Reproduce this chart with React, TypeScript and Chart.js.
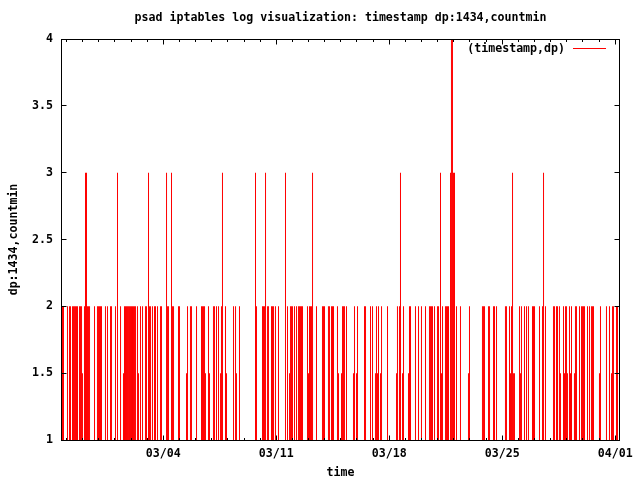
import { useEffect, useRef } from 'react';
import { Chart, registerables } from 'chart.js';

Chart.register(...registerables);

// hours since 2007-02-25 00:00
const timeHours = [
	18.1, 19.6, 25.5, 28.5, 30.0, 33.0, 34.5, 35.9, 37.4, 38.9,
	40.4, 43.4, 44.9, 46.4, 47.8, 50.8, 52.3, 53.8, 55.3, 56.8,
	58.3, 65.7, 70.1, 71.6, 73.1, 74.6, 76.1, 82.0, 85.0, 89.5,
	91.0, 96.9, 99.9, 104.4, 108.8, 110.3, 111.8, 113.3, 114.8, 116.2,
	117.7, 119.2, 120.7, 122.2, 123.7, 125.2, 126.7, 129.6, 131.1, 134.1,
	137.1, 141.5, 143.0, 146.0, 147.5, 149.0, 151.9, 154.9, 156.4, 159.4,
	163.8, 165.3, 172.8, 174.2, 175.7, 180.2, 181.7, 183.2, 190.6, 192.1,
	202.5, 204.0, 208.4, 209.9, 217.4, 224.8, 226.3, 227.8, 229.3, 230.7,
	235.2, 236.7, 242.6, 244.1, 247.1, 250.1, 253.1, 254.5, 256.0, 260.5,
	262.0, 272.4, 275.4, 276.8, 281.3, 305.1, 306.6, 315.5, 317.0, 318.5,
	320.0, 322.9, 324.4, 328.9, 330.4, 331.9, 334.8, 339.3, 349.7, 352.7,
	355.7, 357.1, 358.6, 360.1, 363.1, 366.1, 369.0, 370.5, 372.0, 373.5,
	375.0, 382.4, 383.9, 385.4, 386.9, 388.4, 389.9, 395.8, 404.7, 406.2,
	407.7, 413.6, 415.1, 418.1, 419.6, 421.1, 427.0, 428.5, 433.0, 434.5,
	436.0, 437.4, 440.4, 450.8, 452.3, 455.3, 456.8, 467.2, 468.7, 476.1,
	479.1, 483.5, 485.0, 486.5, 488.0, 491.0, 492.5, 501.4, 514.8, 516.2,
	519.2, 520.7, 523.7, 525.2, 532.6, 534.1, 535.6, 543.0, 547.5, 551.9,
	557.9, 563.8, 565.3, 566.8, 568.3, 571.3, 575.7, 577.2, 580.2, 581.7,
	583.2, 587.6, 589.1, 590.6, 592.1, 595.1, 596.5, 598.0, 599.5, 601.0,
	604.0, 609.9, 621.8, 623.3, 642.6, 644.1, 645.6, 651.6, 653.1, 659.0,
	660.5, 663.5, 676.8, 678.3, 682.8, 684.3, 685.8, 687.3, 688.7, 690.2,
	697.7, 699.2, 700.6, 705.1, 708.1, 711.0, 717.0, 718.5, 720.0, 727.4,
	731.9, 733.4, 736.3, 748.2, 749.7, 752.7, 754.2, 757.1, 758.6, 763.1,
	764.6, 766.1, 767.6, 769.0, 772.0, 773.5, 775.0, 779.4, 780.9, 782.4,
	786.9, 789.9, 791.3, 792.8, 794.3, 798.8, 801.8, 804.7, 806.2, 807.7,
	816.6, 818.1, 827.0, 831.5, 834.5, 836.0, 837.4, 841.9, 843.4
];

const countMin = [
	2, 2, 2, 2, 2, 2, 2, 2, 2, 2,
	2, 2, 2, 2, 1.5, 2, 3, 3, 2, 2,
	2, 2, 2, 2, 2, 2, 2, 2, 2, 2,
	2, 2, 3, 2, 1.5, 2, 2, 2, 2, 2,
	2, 2, 2, 2, 2, 2, 2, 2, 1.5, 2,
	2, 2, 2, 3, 2, 2, 2, 2, 2, 2,
	2, 2, 3, 2, 2, 3, 2, 2, 2, 2,
	1.5, 2, 2, 2, 2, 2, 2, 2, 2, 1.5,
	2, 1.5, 2, 2, 2, 2, 1.5, 2, 3, 2,
	1.5, 2, 2, 1.5, 2, 3, 2, 2, 2, 2,
	3, 2, 2, 2, 2, 2, 2, 2, 3, 2,
	1.5, 2, 2, 2, 2, 2, 2, 2, 2, 2,
	2, 2, 1.5, 2, 2, 2, 3, 2, 2, 2,
	2, 2, 2, 2, 2, 2, 2, 1.5, 1.5, 2,
	2, 2, 2, 1.5, 2, 1.5, 2, 2, 2, 2,
	2, 1.5, 2, 1.5, 2, 1.5, 2, 2, 1.5, 2,
	2, 3, 1.5, 2, 1.5, 2, 2, 2, 2, 2,
	2, 2, 2, 2, 2, 2, 2, 2, 3, 1.5,
	2, 2, 2, 2, 2, 3, 4, 4, 3, 3,
	2, 2, 1.5, 2, 2, 2, 2, 2, 2, 2,
	2, 2, 2, 2, 2, 1.5, 2, 3, 1.5, 1.5,
	2, 1.5, 2, 2, 2, 2, 2, 2, 2, 2,
	2, 3, 2, 2, 2, 2, 2, 2, 1.5, 2,
	1.5, 2, 2, 1.5, 2, 1.5, 2, 1.5, 2, 2,
	2, 2, 2, 2, 2, 2, 2, 2, 2, 2,
	1.5, 2, 2, 2, 1.5, 2, 2, 2, 2
];

// x axis range (hours) and weekly labels
const xMin = 17.36;
const xMax = 845.63;
const weekTicks = [168, 336, 504, 672, 840];
const weekLabels = ['03/04', '03/11', '03/18', '03/25', '04/01'];
const dayTicks = Array.from({ length: 35 }, (_, i) => (i + 1) * 24);

const yTicks = [1, 1.5, 2, 2.5, 3, 3.5, 4];
const yLabels = ['1', '1.5', '2', '2.5', '3', '3.5', '4'];

const FONT = {
	family: "'DejaVu Sans Mono', monospace",
	size: 11.6,
	weight: 'bold' as const,
	lineHeight: 1.2
};

// gnuplot style border with inward ticks on all four sides
const framePlugin = {
	id: 'gnuplotFrame',
	afterDatasetsDraw(chart: any) {
		const { ctx, chartArea: a, scales } = chart;
		const L = a.left - 0.5;
		const R = a.right + 0.5;
		const T = a.top + 0.5;
		const B = a.bottom + 0.5;
		ctx.save();
		ctx.strokeStyle = '#000';
		ctx.lineWidth = 1;
		ctx.beginPath();
		for (const t of scales.x.ticks) {
			const x = Math.floor(scales.x.getPixelForValue(t.value)) + 0.5;
			const len = weekTicks.includes(t.value) ? 5 : 2.5;
			ctx.moveTo(x, B);
			ctx.lineTo(x, B - len);
			ctx.moveTo(x, T);
			ctx.lineTo(x, T + len);
		}
		for (const t of scales.y.ticks) {
			const y = Math.floor(scales.y.getPixelForValue(t.value)) + 0.5;
			ctx.moveTo(L, y);
			ctx.lineTo(L + 5, y);
			ctx.moveTo(R, y);
			ctx.lineTo(R - 5, y);
		}
		ctx.stroke();
		ctx.strokeRect(L, T, R - L, B - T);
		ctx.restore();
	}
};

// key in the top right corner: label text, then a line sample
const keyPlugin = {
	id: 'gnuplotKey',
	afterDatasetsDraw(chart: any) {
		const { ctx, chartArea: a } = chart;
		const ds = chart.data.datasets[0];
		const y = a.top + 9.5;
		ctx.save();
		ctx.font = `bold ${FONT.size}px ${FONT.family}`;
		ctx.fillStyle = '#000';
		ctx.textAlign = 'right';
		ctx.textBaseline = 'middle';
		ctx.fillText(ds.label, a.right - 54, y);
		ctx.strokeStyle = ds.backgroundColor;
		ctx.lineWidth = 1;
		ctx.beginPath();
		ctx.moveTo(a.right - 46, y);
		ctx.lineTo(a.right - 13, y);
		ctx.stroke();
		ctx.restore();
	}
};

export default function App() {
	const canvasRef = useRef<HTMLCanvasElement | null>(null);
	const chartRef = useRef<Chart | null>(null);

	useEffect(() => {
		if (!canvasRef.current) return;
		if (chartRef.current) chartRef.current.destroy();

		const points = timeHours.map((h, i) => ({ x: h, y: countMin[i] }));

		chartRef.current = new Chart(canvasRef.current, {
			type: 'bar',
			data: {
				datasets: [
					{
						label: '(timestamp,dp)',
						data: points,
						backgroundColor: '#ff0000',
						borderWidth: 0,
						barThickness: 1,
						inflateAmount: 0,
						base: 1
					} as any
				]
			},
			options: {
				responsive: false,
				animation: false,
				devicePixelRatio: 1,
				layout: { padding: { left: 0, right: 21, top: 0, bottom: 0 } },
				plugins: {
					legend: { display: false },
					tooltip: { enabled: false },
					title: {
						display: true,
						text: 'psad iptables log visualization: timestamp dp:1434,countmin',
						color: '#000',
						font: FONT,
						fullSize: false,
						padding: { top: 11.5, bottom: 13.58 }
					}
				},
				scales: {
					x: {
						type: 'linear',
						min: xMin,
						max: xMax,
						offset: false,
						grid: { display: false, drawTicks: false, offset: false },
						border: { display: false },
						afterBuildTicks: (s: any) => {
							s.ticks = dayTicks.map((v) => ({ value: v }));
						},
						afterFit: (s: any) => {
							s.height = 40;
						},
						ticks: {
							autoSkip: false,
							maxRotation: 0,
							padding: 7,
							color: '#000',
							font: FONT,
							callback: (v: any) => {
								const i = weekTicks.indexOf(Number(v));
								return i >= 0 ? weekLabels[i] : '';
							}
						},
						title: { display: true, text: 'time', color: '#000', font: FONT, padding: 0 }
					},
					y: {
						type: 'linear',
						min: 1,
						max: 4,
						grid: { display: false, drawTicks: false },
						border: { display: false },
						afterBuildTicks: (s: any) => {
							s.ticks = yTicks.map((v) => ({ value: v }));
						},
						afterFit: (s: any) => {
							s.width = 62;
						},
						ticks: {
							padding: 9,
							color: '#000',
							font: FONT,
							callback: (v: any) => yLabels[yTicks.indexOf(Number(v))]
						},
						title: {
							display: true,
							text: 'dp:1434,countmin',
							color: '#000',
							font: FONT,
							padding: { top: 7, bottom: 0 }
						}
					}
				}
			},
			plugins: [framePlugin, keyPlugin]
		});

		return () => {
			chartRef.current?.destroy();
			chartRef.current = null;
		};
	}, []);

	return (
		<div style={{ position: 'absolute', left: 0, top: 0, width: 640, height: 480, background: '#fff' }}>
			<canvas ref={canvasRef} width={640} height={480} />
		</div>
	);
}
